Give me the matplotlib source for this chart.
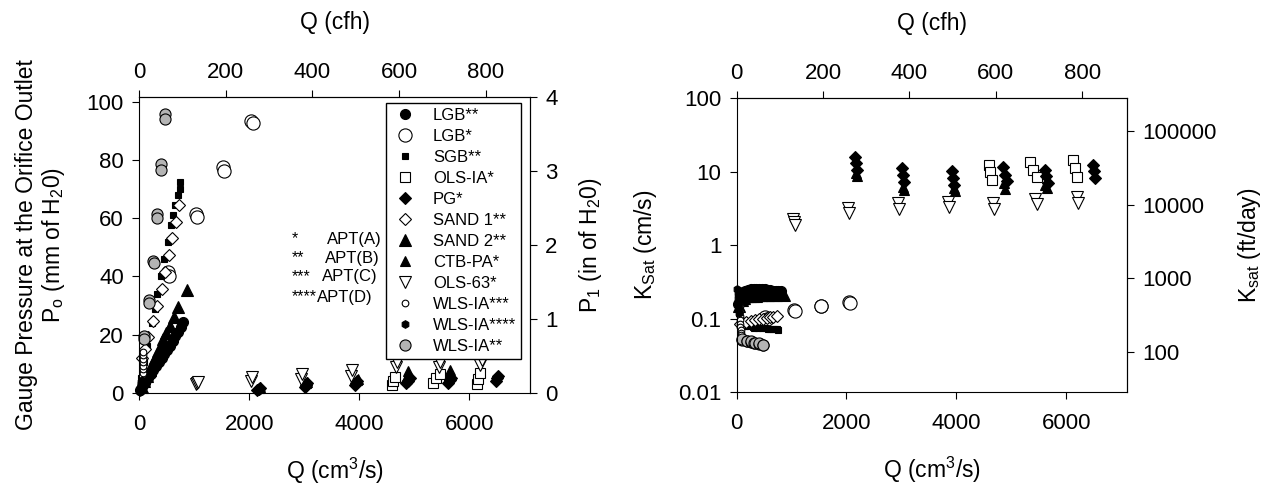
import numpy as np
import matplotlib.pyplot as plt
from matplotlib.ticker import FixedLocator, FuncFormatter, NullLocator

plt.rcParams['font.family'] = 'Liberation Sans'
plt.rcParams['mathtext.fontset'] = 'custom'
plt.rcParams['mathtext.rm'] = 'Liberation Sans'
plt.rcParams['mathtext.it'] = 'Liberation Sans:italic'
plt.rcParams['xtick.labelsize'] = 16
plt.rcParams['ytick.labelsize'] = 16
plt.rcParams['axes.labelsize'] = 16.5

CFH = 3600 / 28316.85      # cm3/s -> ft3/h
MM_PER_IN = 25.4           # mm H2O -> in H2O
FT_DAY = 86400 / 30.48     # cm/s -> ft/day

# flow Q (cm3/s), outlet pressure Po (mm H2O), Ksat (cm/s)
q_lgb2 = [20, 60, 110, 160, 210, 260, 310, 360, 410, 460, 510, 560, 610, 660, 710, 760, 806]
po_lgb2 = [1.0, 2.2, 3.6, 5.0, 6.4, 7.8, 9.1, 10.5, 11.9, 13.3, 14.8, 16.3, 17.8, 19.4, 21.0, 22.7, 24.4]
k_lgb2 = [0.16, 0.21, 0.23, 0.24, 0.245, 0.25, 0.25, 0.25, 0.25, 0.25, 0.25, 0.245, 0.245, 0.24, 0.24, 0.24, 0.235]

q_lgb1 = [520, 545, 1040, 1060, 1530, 1545, 2040, 2060]
po_lgb1 = [41.5, 40.0, 61.5, 60.3, 77.5, 76.3, 93.5, 92.6]
k_lgb1 = [0.105, 0.1, 0.13, 0.128, 0.15, 0.148, 0.167, 0.163]

q_sgb2 = [40, 90, 150, 230, 290, 320, 390, 455, 520, 576, 615, 654, 700, 740, 745]
po_sgb2 = [5.0, 10.5, 16.0, 24.0, 29.0, 34.0, 40.0, 46.0, 52.0, 57.5, 61.0, 64.4, 68.0, 70.0, 72.4]
k_sgb2 = [0.12, 0.09, 0.08, 0.078, 0.076, 0.075, 0.075, 0.074, 0.074, 0.073, 0.073, 0.072, 0.072, 0.071, 0.07]

q_olsia1 = [4600, 4620, 4650, 5340, 5400, 5460, 6130, 6160, 6200]
po_olsia1 = [2.8, 4.0, 5.5, 3.4, 5.2, 6.5, 3.0, 4.8, 6.8]
k_olsia1 = [12.2, 9.8, 7.7, 13.5, 10.5, 8.5, 14.5, 11.0, 8.5]

q_pg1 = [2150, 2170, 2190, 3010, 3030, 3050, 3920, 3940, 3960,
         4850, 4880, 4920, 5610, 5640, 5670, 6480, 6500, 6520]
po_pg1 = [1.0, 1.3, 1.7, 2.0, 2.6, 3.3, 2.8, 3.3, 4.0,
          3.4, 4.2, 5.0, 3.6, 4.3, 5.2, 4.2, 5.0, 5.8]
k_pg1 = [15.8, 13.1, 10.6, 11.2, 8.9, 7.2, 10.2, 8.1, 6.6,
         11.5, 9.1, 7.5, 10.5, 8.6, 7.0, 12.2, 10.1, 8.2]

q_sand1 = [60, 110, 170, 260, 333, 412, 473, 545, 606, 667, 731]
po_sand1 = [12.0, 15.0, 19.3, 24.6, 30.0, 35.6, 41.4, 47.3, 53.2, 58.8, 64.7]
k_sand1 = [0.085, 0.088, 0.091, 0.094, 0.096, 0.098, 0.1, 0.102, 0.104, 0.106, 0.108]

q_sand2 = [50, 95, 140, 190, 240, 290, 345, 390, 440, 490, 564, 640, 715, 867]
po_sand2 = [2.0, 4.0, 6.0, 8.0, 10.0, 12.0, 14.3, 16.3, 18.5, 20.5, 23.0, 26.0, 29.5, 35.5]
k_sand2 = [0.15, 0.18, 0.19, 0.2, 0.2, 0.205, 0.205, 0.21, 0.21, 0.21, 0.21, 0.21, 0.21, 0.21]

q_ctb1 = [2180, 2200, 3030, 3050, 3950, 3970, 4860, 4880, 5620, 5650]
po_ctb1 = [1.8, 2.1, 3.4, 3.8, 4.3, 4.8, 5.8, 7.5, 6.2, 7.8]
k_ctb1 = [9.6, 8.8, 6.2, 5.6, 6.0, 5.5, 7.0, 5.8, 6.6, 5.9]

q_ols63 = [1030, 1050, 1070, 2030, 2050, 2940, 2960, 3850, 3870, 4660, 4690, 5440, 5460, 6190, 6220]
po_ols63 = [3.0, 3.4, 3.8, 4.2, 5.4, 4.8, 6.5, 6.0, 7.8, 9.0, 10.6, 9.0, 10.8, 9.6, 11.3]
k_ols63 = [2.25, 2.05, 1.85, 3.2, 2.7, 3.7, 3.1, 3.8, 3.3, 3.7, 3.1, 4.2, 3.6, 4.5, 3.7]

q_wls3 = [60, 62, 64, 66, 68, 70, 72, 74, 76]
po_wls3 = [4.5, 5.8, 7.0, 8.2, 9.4, 10.6, 11.8, 13.0, 14.2]
k_wls3 = [0.15, 0.125, 0.108, 0.095, 0.085, 0.077, 0.07, 0.064, 0.059]

q_wls4 = [10, 16, 22, 28, 34, 40, 46]
po_wls4 = [0.5, 1.1, 1.7, 2.4, 3.1, 3.8, 4.6]
k_wls4 = [0.25, 0.22, 0.19, 0.17, 0.15, 0.13, 0.12]

q_wls2 = [91, 95, 182, 186, 260, 264, 322, 326, 400, 404, 473, 477]
po_wls2 = [19.5, 18.5, 31.8, 31.0, 45.2, 44.5, 61.6, 60.0, 78.7, 76.5, 95.8, 94.1]
k_wls2 = [0.051, 0.052, 0.05, 0.05, 0.048, 0.049, 0.047, 0.047, 0.045, 0.046, 0.043, 0.044]

# label, Q, Po, K, marker, face colour, marker size
series = [
    ('LGB**', q_lgb2, po_lgb2, k_lgb2, 'o', 'black', 7.2),
    ('LGB*', q_lgb1, po_lgb1, k_lgb1, 'o', 'white', 9.5),
    ('SGB**', q_sgb2, po_sgb2, k_sgb2, 's', 'black', 5.0),
    ('OLS-IA*', q_olsia1, po_olsia1, k_olsia1, 's', 'white', 7.0),
    ('PG*', q_pg1, po_pg1, k_pg1, 'D', 'black', 6.5),
    ('SAND 1**', q_sand1, po_sand1, k_sand1, 'D', 'white', 6.5),
    ('SAND 2**', q_sand2, po_sand2, k_sand2, '^', 'black', 8.0),
    ('CTB-PA*', q_ctb1, po_ctb1, k_ctb1, '^', 'black', 6.5),
    ('OLS-63*', q_ols63, po_ols63, k_ols63, 'v', 'white', 8.5),
    ('WLS-IA***', q_wls3, po_wls3, k_wls3, 'o', 'white', 4.8),
    ('WLS-IA****', q_wls4, po_wls4, k_wls4, 'h', 'black', 5.5),
    ('WLS-IA**', q_wls2, po_wls2, k_wls2, 'o', '#b4b4b4', 8.0),
]

fig = plt.figure(figsize=(12.76, 4.87), dpi=100)
ax1 = fig.add_axes([0.109, 0.193, 0.3064, 0.6078])
ax2 = fig.add_axes([0.5773, 0.195, 0.3056, 0.6037])

for lab, q, po, k, m, fc, ms in series:
    kw = dict(ls='none', marker=m, mfc=fc, mec='black', mew=0.8, ms=ms, clip_on=False)
    ax1.plot(q, po, label=lab, **kw)
    ax2.plot(q, k, **kw)

for ax in (ax1, ax2):
    ax.set_xlim(0, 7100)
    ax.set_xticks([0, 2000, 4000, 6000])
    ax.tick_params(direction='out', length=5, width=0.8, pad=6)
    ax.tick_params(axis='x', pad=10)
    ax.set_xlabel('Q (cm$^\\mathregular{3}$/s)', labelpad=15)
    for s in ax.spines.values():
        s.set_linewidth(0.8)
    top = ax.secondary_xaxis('top', functions=(lambda q: q * CFH, lambda c: c / CFH))
    top.set_xticks([0, 200, 400, 600, 800])
    top.tick_params(direction='out', length=5, width=0.8, pad=5)
    top.set_xlabel('Q (cfh)', labelpad=24)

# left panel: pressure
ax1.set_ylim(0, 4 * MM_PER_IN)
ax1.set_yticks([0, 20, 40, 60, 80, 100])
ax1.set_ylabel('Gauge Pressure at the Orifice Outlet\nP$_\\mathregular{o}$ (mm of H$_\\mathregular{2}$0)',
               labelpad=14, linespacing=1.1)
right1 = ax1.secondary_yaxis('right', functions=(lambda p: p / MM_PER_IN, lambda i: i * MM_PER_IN))
right1.set_yticks([0, 1, 2, 3, 4])
right1.tick_params(direction='out', length=5, width=0.8, pad=6)
right1.set_ylabel('P$_\\mathregular{1}$ (in of H$_\\mathregular{2}$0)', labelpad=14)

ax1.legend(loc='upper right', bbox_to_anchor=(0.977, 0.98), fontsize=12, numpoints=1,
           frameon=True, fancybox=False, framealpha=1, edgecolor='black',
           borderpad=0.3, labelspacing=0.36, handlelength=1.7, handletextpad=0.8,
           borderaxespad=0)

for stars, apt, xs, ya in [('*', 'APT(A)', 0.480, 0.520), ('**', 'APT(B)', 0.476, 0.456),
                           ('***', 'APT(C)', 0.468, 0.392), ('****', 'APT(D)', 0.455, 0.324)]:
    ax1.text(0.391, ya, stars, transform=ax1.transAxes, fontsize=11.5, va='center', ha='left')
    ax1.text(xs, ya, apt, transform=ax1.transAxes, fontsize=12, va='center', ha='left')

# right panel: saturated conductivity
ax2.set_yscale('log')
ax2.set_ylim(0.01, 100)
ax2.yaxis.set_major_locator(FixedLocator([0.01, 0.1, 1, 10, 100]))
ax2.yaxis.set_minor_locator(NullLocator())
ax2.yaxis.set_major_formatter(FuncFormatter(lambda v, p: '%g' % v))
ax2.set_ylabel('K$_\\mathregular{Sat}$ (cm/s)', labelpad=14)
right2 = ax2.secondary_yaxis('right', functions=(lambda k: k * FT_DAY, lambda f: f / FT_DAY))
right2.yaxis.set_major_locator(FixedLocator([100, 1000, 10000, 100000]))
right2.yaxis.set_minor_locator(NullLocator())
right2.yaxis.set_major_formatter(FuncFormatter(lambda v, p: '%d' % round(v)))
right2.tick_params(direction='out', length=5, width=0.8, pad=6)
right2.set_ylabel('K$_\\mathregular{sat}$ (ft/day)', labelpad=14)

fig.savefig('out.png', dpi=100)
